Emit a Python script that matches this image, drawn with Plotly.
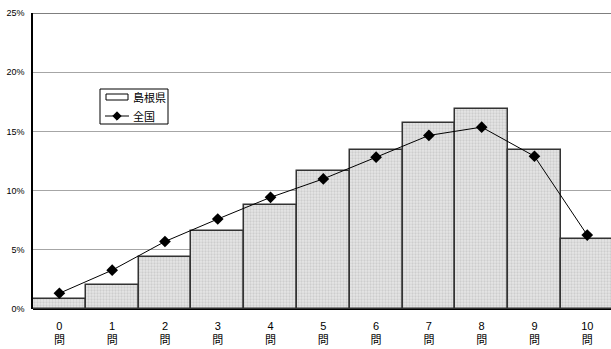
import plotly.graph_objects as go

# 正答数の分布（％）
categories = [f"{n}<br>問" for n in range(11)]
shimane = [0.82, 2.0, 4.38, 6.6, 8.79, 11.69, 13.45, 15.74, 16.89, 13.42, 5.9]
zenkoku = [1.33, 3.28, 5.7, 7.6, 9.43, 10.99, 12.82, 14.66, 15.36, 12.9, 6.24]
y_ticks = [0, 5, 10, 15, 20, 25]
y_labels = [f"{v}%" for v in y_ticks]
legend_names = ["島根県", "全国"]

FONT = "Liberation Sans, Arial, Noto Sans CJK JP, sans-serif"
xpos = list(range(len(categories)))

fig = go.Figure()
fig.add_trace(go.Bar(
    x=xpos, y=shimane, name=legend_names[0],
    marker=dict(
        color="#e4e4e4",
        line=dict(color="#333333", width=1.5),
        pattern=dict(shape=".", fgcolor="#b4b4b4", bgcolor="#e6e6e6",
                     size=3, solidity=0.45),
    ),
))
fig.add_trace(go.Scatter(
    x=xpos, y=zenkoku, name=legend_names[1], mode="lines+markers",
    line=dict(color="#000000", width=1),
    marker=dict(symbol="diamond", size=9, color="#000000"),
))

# 上端の枠線
fig.add_shape(type="line", xref="paper", yref="y", x0=0, x1=1, y0=25, y1=25,
              line=dict(color="#555555", width=1.5), layer="above")

# 凡例（枠・記号・文字）
W, H = 578.0, 296.0          # プロット領域の大きさ (px)
def px(x):
    return (x - 33) / W
def py(y):
    return (309 - y) / H

fig.add_shape(type="rect", xref="paper", yref="paper",
              x0=px(100), x1=px(168), y0=py(124), y1=py(89),
              line=dict(color="#000000", width=1), fillcolor="white",
              layer="above")
fig.add_shape(type="rect", xref="paper", yref="paper",
              x0=px(106), x1=px(128), y0=py(100), y1=py(94),
              line=dict(color="#000000", width=1), fillcolor="white",
              layer="above")
fig.add_shape(type="line", xref="paper", yref="paper",
              x0=px(105), x1=px(129), y0=py(116), y1=py(116),
              line=dict(color="#000000", width=1), layer="above")
cx, cy, d = 117, 116, 4.2
fig.add_shape(type="path", xref="paper", yref="paper",
              path=(f"M {px(cx - d)} {py(cy)} L {px(cx)} {py(cy - d)} "
                    f"L {px(cx + d)} {py(cy)} L {px(cx)} {py(cy + d)} Z"),
              line=dict(color="#000000", width=1), fillcolor="#000000",
              layer="above")
for name, ty in zip(legend_names, [97, 116]):
    fig.add_annotation(xref="paper", yref="paper", x=px(131), y=py(ty),
                       text=name, showarrow=False, xanchor="left",
                       yanchor="middle", font=dict(size=11))

fig.update_layout(
    width=611, height=349,
    margin=dict(l=33, r=0, t=13, b=40),
    paper_bgcolor="white", plot_bgcolor="white",
    bargap=0,
    font=dict(family=FONT, size=10, color="#000000"),
    showlegend=False,
    xaxis=dict(
        range=[-0.5, 10.45],
        tickmode="array", tickvals=xpos, ticktext=categories,
        showgrid=False, zeroline=False, showline=False,
        ticks="", tickfont=dict(size=11), ticklabelstandoff=9,
    ),
    yaxis=dict(
        range=[0, 25],
        tickmode="array", tickvals=y_ticks, ticktext=y_labels,
        showgrid=True, gridcolor="#a6a6a6", gridwidth=1,
        zeroline=True, zerolinecolor="#000000", zerolinewidth=1.5,
        showline=True, linecolor="#000000", linewidth=1.5,
        ticks="", tickfont=dict(size=9), ticklabelstandoff=5,
    ),
)

fig.write_html("out.html")
